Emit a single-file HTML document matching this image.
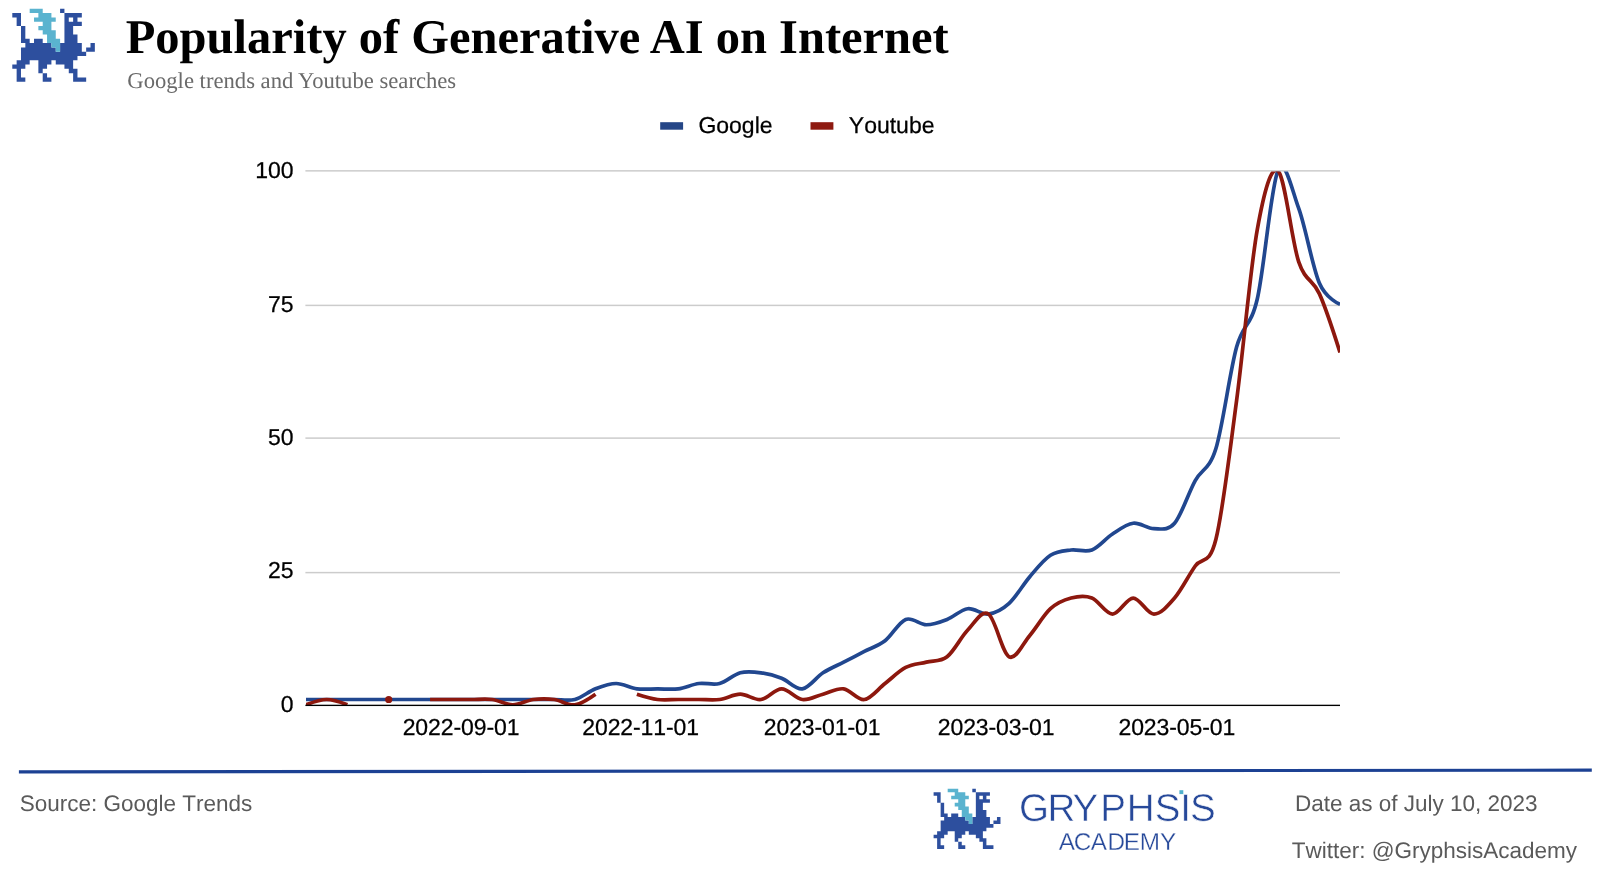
<!DOCTYPE html>
<html lang="en">
<head>
<meta charset="utf-8">
<title>Popularity of Generative AI on Internet</title>
<style>
html,body{margin:0;padding:0;background:#fff}
body{width:1600px;height:871px;position:relative;overflow:hidden;font-family:"Liberation Sans",sans-serif;color:#000;text-rendering:geometricPrecision}
.t{position:absolute;white-space:nowrap;line-height:1;margin:0;font-weight:normal}
h1.t{left:125.7px;top:13.7px;font:bold 48.5px/1 "Liberation Serif",serif;letter-spacing:0}
.sub{left:127.3px;top:70.0px;font:22.65px/1 "Liberation Serif",serif;color:#6a6a6a}
.foot{font-size:22.5px;color:#5a5a5a;font-kerning:none}
svg{position:absolute;left:0;top:0}
.page{position:absolute;left:0;top:0;width:1600px;height:871px;will-change:transform}
svg text{font-family:"Liberation Sans",sans-serif;font-size:23px;fill:#000;font-kerning:none;stroke:#000;stroke-width:.25px}
</style>
</head>
<body>
<div class="page">
<svg width="1600" height="871" viewBox="0 0 1600 871">
<defs><clipPath id="plot"><rect x="306.0" y="171.6" width="1034.0" height="534.40"/></clipPath></defs>
<path d="M60.09,8.80h4.34v4.29h-4.34zM12.30,13.09h8.69v4.29h-8.69zM64.44,13.09h17.38v4.29h-17.38zM16.64,17.38h4.34v4.29h-4.34zM64.44,17.38h4.34v4.29h-4.34zM73.13,17.38h4.34v4.29h-4.34zM16.64,21.67h4.34v4.29h-4.34zM64.44,21.67h17.38v4.29h-17.38zM20.99,25.96h4.34v4.29h-4.34zM64.44,25.96h8.69v4.29h-8.69zM20.99,30.25h4.34v4.29h-4.34zM64.44,30.25h8.69v4.29h-8.69zM20.99,34.54h4.34v4.29h-4.34zM64.44,34.54h13.04v4.29h-13.04zM20.99,38.83h8.69v4.29h-8.69zM34.02,38.83h8.69v4.29h-8.69zM64.44,38.83h13.04v4.29h-13.04zM25.34,43.12h26.07v4.29h-26.07zM60.09,43.12h21.72v4.29h-21.72zM90.51,43.12h4.34v4.29h-4.34zM20.99,47.41h34.76v4.29h-34.76zM60.09,47.41h21.72v4.29h-21.72zM86.16,47.41h8.69v4.29h-8.69zM20.99,51.70h65.17v4.29h-65.17zM20.99,55.99h56.48v4.29h-56.48zM16.64,60.28h13.04v4.29h-13.04zM38.37,60.28h13.04v4.29h-13.04zM55.75,60.28h17.38v4.29h-17.38zM12.30,64.57h13.04v4.29h-13.04zM38.37,64.57h8.69v4.29h-8.69zM64.44,64.57h8.69v4.29h-8.69zM16.64,68.86h4.34v4.29h-4.34zM38.37,68.86h4.34v4.29h-4.34zM68.78,68.86h8.69v4.29h-8.69zM16.64,73.15h4.34v4.29h-4.34zM42.72,73.15h4.34v4.29h-4.34zM73.13,73.15h4.34v4.29h-4.34zM16.64,77.44h8.69v4.29h-8.69zM42.72,77.44h8.69v4.29h-8.69zM73.13,77.44h13.04v4.29h-13.04z" fill="#2d4f9e"/><path d="M29.68,8.80h13.04v4.29h-13.04zM38.37,13.09h13.04v4.29h-13.04zM34.02,17.38h21.72v4.29h-21.72zM42.72,21.67h8.69v4.29h-8.69zM38.37,25.96h13.04v4.29h-13.04zM42.72,30.25h13.04v4.29h-13.04zM47.06,34.54h8.69v4.29h-8.69zM47.06,38.83h13.04v4.29h-13.04zM51.41,43.12h8.69v4.29h-8.69zM55.75,47.41h4.34v4.29h-4.34z" fill="#5ab3cf"/>
<rect x="660.2" y="122.2" width="22.9" height="7.5" fill="#254687"/>
<text transform="translate(698.4,133.3) scale(1,1)">Google</text>
<rect x="810.5" y="122.2" width="22.9" height="7.5" fill="#8e1a11"/>
<text transform="translate(848.8,133.3) scale(1,1)">Youtube</text>
<rect x="305.4" y="571.85" width="1034.6" height="1.5" fill="#cccccc"/><rect x="305.4" y="437.35" width="1034.6" height="1.5" fill="#cccccc"/><rect x="305.4" y="304.65" width="1034.6" height="1.5" fill="#cccccc"/><rect x="305.4" y="170.10" width="1034.6" height="1.5" fill="#cccccc"/>
<g clip-path="url(#plot)">
<path d="M306.00,699.51C306.00,699.51,319.79,699.51,326.68,699.51C333.57,699.51,340.47,699.51,347.36,699.51C354.25,699.51,361.15,699.51,368.04,699.51C374.93,699.51,381.83,699.51,388.72,699.51C395.61,699.51,402.51,699.51,409.40,699.51C416.29,699.51,423.19,699.51,430.08,699.51C436.97,699.51,443.87,699.51,450.76,699.51C457.65,699.51,464.55,699.51,471.44,699.51C478.33,699.51,485.23,699.51,492.12,699.51C499.01,699.51,505.91,699.51,512.80,699.51C519.69,699.51,526.59,699.51,533.48,699.51C540.37,699.51,547.27,699.51,554.16,699.51C561.05,699.51,567.95,701.29,574.84,699.51C581.73,697.73,588.63,691.50,595.52,688.83C602.41,686.16,609.31,683.49,616.20,683.49C623.09,683.49,629.99,687.94,636.88,688.83C643.77,689.72,650.67,688.83,657.56,688.83C664.45,688.83,671.35,689.72,678.24,688.83C685.13,687.94,692.03,684.38,698.92,683.49C705.81,682.60,712.71,685.27,719.60,683.49C726.49,681.71,733.39,674.59,740.28,672.81C747.17,671.03,754.07,671.92,760.96,672.81C767.85,673.70,774.75,675.48,781.64,678.15C788.53,680.82,795.43,689.72,802.32,688.83C809.21,687.94,816.11,677.26,823.00,672.81C829.89,668.36,836.79,665.69,843.68,662.13C850.57,658.57,857.47,655.01,864.36,651.45C871.25,647.88,878.15,646.10,885.04,640.76C891.93,635.42,898.83,622.07,905.72,619.40C912.61,616.73,919.51,624.74,926.40,624.74C933.29,624.74,940.19,622.07,947.08,619.40C953.97,616.73,960.87,609.61,967.76,608.72C974.65,607.83,981.55,614.95,988.44,614.06C995.33,613.17,1002.23,609.61,1009.12,603.38C1016.01,597.15,1022.91,584.69,1029.80,576.68C1036.69,568.67,1043.59,559.77,1050.48,555.32C1057.37,550.87,1064.27,550.87,1071.16,549.98C1078.05,549.09,1084.95,552.65,1091.84,549.98C1098.73,547.31,1105.63,538.40,1112.52,533.95C1119.41,529.50,1126.31,524.16,1133.20,523.27C1140.09,522.38,1146.99,528.61,1153.88,528.61C1160.77,528.61,1167.67,531.28,1174.56,523.27C1181.45,515.26,1188.35,493.01,1195.24,480.55C1202.13,468.09,1209.03,470.76,1215.92,448.51C1222.81,426.25,1229.71,371.96,1236.60,347.04C1243.49,322.11,1250.39,328.34,1257.28,298.97C1264.17,269.60,1271.07,185.93,1277.96,170.80C1284.85,155.67,1291.75,189.49,1298.64,208.18C1305.53,226.88,1312.43,266.93,1319.32,282.95C1326.21,298.97,1340.00,304.31,1340.00,304.31" fill="none" stroke="#21478f" stroke-width="3.7" stroke-linejoin="round"/>
<path d="M306.00,704.85C306.00,704.85,319.79,699.51,326.68,699.51C333.57,699.51,347.36,704.85,347.36,704.85" fill="none" stroke="#8d180e" stroke-width="3.7" stroke-linejoin="round"/><circle cx="388.72" cy="699.51" r="3.6" fill="#8d180e"/><path d="M430.08,699.51C430.08,699.51,443.87,699.51,450.76,699.51C457.65,699.51,464.55,699.51,471.44,699.51C478.33,699.51,485.23,698.62,492.12,699.51C499.01,700.40,505.91,704.85,512.80,704.85C519.69,704.85,526.59,700.40,533.48,699.51C540.37,698.62,547.27,698.62,554.16,699.51C561.05,700.40,567.95,705.74,574.84,704.85C581.73,703.96,595.52,694.17,595.52,694.17" fill="none" stroke="#8d180e" stroke-width="3.7" stroke-linejoin="round"/><path d="M636.88,694.17C636.88,694.17,650.67,698.62,657.56,699.51C664.45,700.40,671.35,699.51,678.24,699.51C685.13,699.51,692.03,699.51,698.92,699.51C705.81,699.51,712.71,700.40,719.60,699.51C726.49,698.62,733.39,694.17,740.28,694.17C747.17,694.17,754.07,700.40,760.96,699.51C767.85,698.62,774.75,688.83,781.64,688.83C788.53,688.83,795.43,698.62,802.32,699.51C809.21,700.40,816.11,695.95,823.00,694.17C829.89,692.39,836.79,687.94,843.68,688.83C850.57,689.72,857.47,700.40,864.36,699.51C871.25,698.62,878.15,688.83,885.04,683.49C891.93,678.15,898.83,671.03,905.72,667.47C912.61,663.91,919.51,663.91,926.40,662.13C933.29,660.35,940.19,662.13,947.08,656.79C953.97,651.45,960.87,637.20,967.76,630.08C974.65,622.96,981.55,609.61,988.44,614.06C995.33,618.51,1002.23,653.23,1009.12,656.79C1016.01,660.35,1022.91,643.43,1029.80,635.42C1036.69,627.41,1043.59,614.95,1050.48,608.72C1057.37,602.49,1064.27,599.82,1071.16,598.04C1078.05,596.26,1084.95,595.37,1091.84,598.04C1098.73,600.71,1105.63,614.06,1112.52,614.06C1119.41,614.06,1126.31,598.04,1133.20,598.04C1140.09,598.04,1146.99,614.06,1153.88,614.06C1160.77,614.06,1167.67,606.05,1174.56,598.04C1181.45,590.03,1188.35,575.79,1195.24,566.00C1202.13,556.21,1209.03,566.89,1215.92,539.29C1222.81,511.70,1229.71,452.07,1236.60,400.44C1243.49,348.82,1250.39,267.82,1257.28,229.55C1264.17,191.27,1271.07,165.46,1277.96,170.80C1284.85,176.14,1291.75,241.12,1298.64,261.59C1305.53,282.06,1312.43,278.50,1319.32,293.63C1326.21,308.76,1340.00,352.38,1340.00,352.38" fill="none" stroke="#8d180e" stroke-width="3.7" stroke-linejoin="round"/>
</g>
<rect x="305.4" y="704.7" width="1034.6" height="1.35" fill="#000"/>
<text transform="translate(293.6,711.8) scale(1,1)" text-anchor="end">0</text><text transform="translate(293.6,578.4) scale(1,1)" text-anchor="end">25</text><text transform="translate(293.6,445.0) scale(1,1)" text-anchor="end">50</text><text transform="translate(293.6,311.7) scale(1,1)" text-anchor="end">75</text><text transform="translate(293.6,178.4) scale(1,1)" text-anchor="end">100</text>
<text transform="translate(461.0,735.1) scale(1,1)" text-anchor="middle" style="font-size:23px;letter-spacing:-.1px">2022-09-01</text><text transform="translate(640.6,735.1) scale(1,1)" text-anchor="middle" style="font-size:23px;letter-spacing:-.1px">2022-11-01</text><text transform="translate(822.1,735.1) scale(1,1)" text-anchor="middle" style="font-size:23px;letter-spacing:-.1px">2023-01-01</text><text transform="translate(996.1,735.1) scale(1,1)" text-anchor="middle" style="font-size:23px;letter-spacing:-.1px">2023-03-01</text><text transform="translate(1176.8,735.1) scale(1,1)" text-anchor="middle" style="font-size:23px;letter-spacing:-.1px">2023-05-01</text>
<line x1="18.9" y1="771.9" x2="1591.8" y2="770.15" stroke="#1c4193" stroke-width="3.1"/>
<path d="M972.32,788.70h3.52v3.54h-3.52zM933.60,792.24h7.04v3.54h-7.04zM975.84,792.24h14.08v3.54h-14.08zM937.12,795.78h3.52v3.54h-3.52zM975.84,795.78h3.52v3.54h-3.52zM982.88,795.78h3.52v3.54h-3.52zM937.12,799.32h3.52v3.54h-3.52zM975.84,799.32h14.08v3.54h-14.08zM940.64,802.86h3.52v3.54h-3.52zM975.84,802.86h7.04v3.54h-7.04zM940.64,806.40h3.52v3.54h-3.52zM975.84,806.40h7.04v3.54h-7.04zM940.64,809.94h3.52v3.54h-3.52zM975.84,809.94h10.56v3.54h-10.56zM940.64,813.48h7.04v3.54h-7.04zM951.20,813.48h7.04v3.54h-7.04zM975.84,813.48h10.56v3.54h-10.56zM944.16,817.02h21.12v3.54h-21.12zM972.32,817.02h17.60v3.54h-17.60zM996.96,817.02h3.52v3.54h-3.52zM940.64,820.56h28.16v3.54h-28.16zM972.32,820.56h17.60v3.54h-17.60zM993.44,820.56h7.04v3.54h-7.04zM940.64,824.10h52.80v3.54h-52.80zM940.64,827.64h45.76v3.54h-45.76zM937.12,831.18h10.56v3.54h-10.56zM954.72,831.18h10.56v3.54h-10.56zM968.80,831.18h14.08v3.54h-14.08zM933.60,834.72h10.56v3.54h-10.56zM954.72,834.72h7.04v3.54h-7.04zM975.84,834.72h7.04v3.54h-7.04zM937.12,838.26h3.52v3.54h-3.52zM954.72,838.26h3.52v3.54h-3.52zM979.36,838.26h7.04v3.54h-7.04zM937.12,841.80h3.52v3.54h-3.52zM958.24,841.80h3.52v3.54h-3.52zM982.88,841.80h3.52v3.54h-3.52zM937.12,845.34h7.04v3.54h-7.04zM958.24,845.34h7.04v3.54h-7.04zM982.88,845.34h10.56v3.54h-10.56z" fill="#2d4f9e"/><path d="M947.68,788.70h10.56v3.54h-10.56zM954.72,792.24h10.56v3.54h-10.56zM951.20,795.78h17.60v3.54h-17.60zM958.24,799.32h7.04v3.54h-7.04zM954.72,802.86h10.56v3.54h-10.56zM958.24,806.40h10.56v3.54h-10.56zM961.76,809.94h7.04v3.54h-7.04zM961.76,813.48h10.56v3.54h-10.56zM965.28,817.02h7.04v3.54h-7.04zM968.80,820.56h3.52v3.54h-3.52z" fill="#5ab3cf"/>
<text x="1019.11 1047.52 1072.58 1100.26 1126.65 1154.64 1180.19 1190.09" y="821.00" style="font-size:38.6px;fill:#27499a;stroke:#fff;stroke-width:0.55">GRYPHSIS</text>
<rect x="1179.4" y="790.2" width="3.9" height="3.9" fill="#4fb0cc"/>
<text x="1058.75 1073.77 1090.70 1107.51 1123.67 1139.63 1160.00" y="849.60" style="font-size:24.3px;fill:#27499a;stroke:#fff;stroke-width:0.3">ACADEMY</text>
</svg>
<h1 class="t">Popularity of Generative AI on Internet</h1>
<div class="t sub">Google trends and Youtube searches</div>
<div class="t foot" style="left:19.7px;top:793px">Source: Google Trends</div>
<div class="t foot" style="left:1294.9px;top:793px">Date as of July 10, 2023</div>
<div class="t foot" style="left:1291.7px;top:840px">Twitter: @GryphsisAcademy</div>
</div>
</body>
</html>
